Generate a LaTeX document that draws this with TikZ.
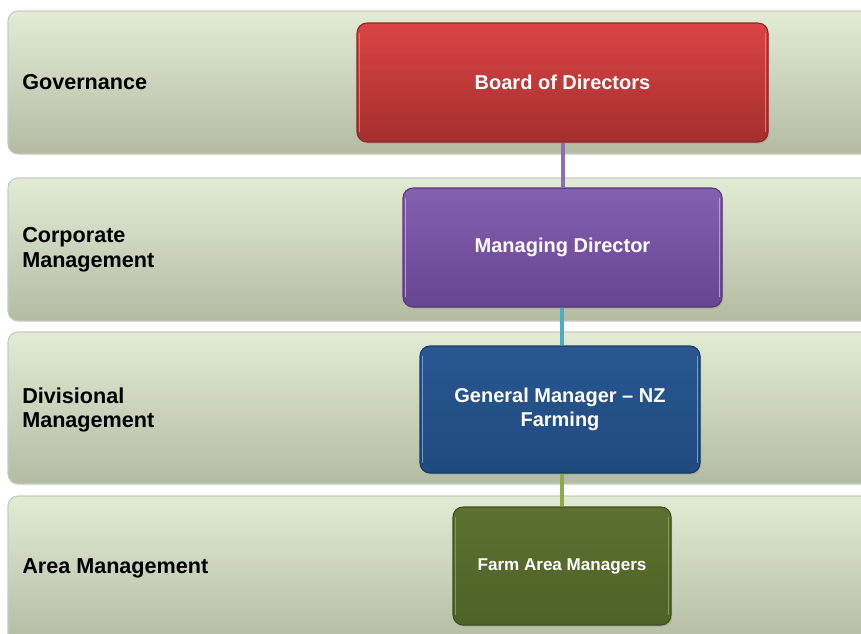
\documentclass[tikz,border=0pt]{standalone}
\usepackage{fontspec}
\setmainfont{Liberation Sans}
\usetikzlibrary{shadows}
\definecolor{bandtop}{HTML}{E2EBD4}
\definecolor{bandbot}{HTML}{B3BBA3}
\definecolor{bandline}{HTML}{C9CBC0}
\definecolor{redtop}{HTML}{DB4444}
\definecolor{redbot}{HTML}{A52E2E}
\definecolor{redline}{HTML}{8E2626}
\definecolor{purtop}{HTML}{8560B2}
\definecolor{purbot}{HTML}{674590}
\definecolor{purline}{HTML}{553878}
\definecolor{blutop}{HTML}{2A5791}
\definecolor{blubot}{HTML}{1F4A80}
\definecolor{bluline}{HTML}{173A66}
\definecolor{grntop}{HTML}{5C7130}
\definecolor{grnbot}{HTML}{4E6127}
\definecolor{grnline}{HTML}{3E4E1E}
\definecolor{conpur}{HTML}{8D6DB5}
\definecolor{concyan}{HTML}{4BACC6}
\definecolor{congrn}{HTML}{8DAA4A}
\definecolor{hlred}{HTML}{F08080}
\definecolor{hlpur}{HTML}{C9A8EE}
\definecolor{hlblu}{HTML}{7FB0E6}
\definecolor{hlgrn}{HTML}{8FA85A}
\tikzset{
  x=0.75pt, y=-0.75pt,
  band/.style={rectangle, rounded corners=7.5pt, draw=bandline, line width=0.8pt,
    top color=bandtop, bottom color=bandbot, inner sep=0pt},
  lvl/.style={anchor=west, inner sep=0pt, align=left, text=black,
    font=\fontsize{16.2}{18.6}\selectfont\bfseries},
  role/.style={rectangle, rounded corners=7.5pt, line width=0.8pt, inner sep=2pt,
    align=center, text=white, font=\fontsize{15}{18}\selectfont\bfseries,
    drop shadow={opacity=0.35, shadow xshift=0.8pt, shadow yshift=-1.2pt}},
  conn/.style={line width=2.4pt}
}
\begin{document}
\begin{tikzpicture}
\useasboundingbox (0,0) rectangle (861,633);
\clip (0,0) rectangle (861,633);
% bands
\node[band, minimum width=650.25pt, minimum height=107.25pt] (b1) at (441.5,82.5) {};
\node[band, minimum width=650.25pt, minimum height=107.25pt] (b2) at (441.5,249.5) {};
\node[band, minimum width=650.25pt, minimum height=114pt] (b3) at (441.5,408) {};
\node[band, minimum width=650.25pt, minimum height=111.75pt] (b4) at (441.5,570.5) {};
% level labels
\node[lvl] (l1) at (22,82.5) {Governance};
\node[lvl] (l2) at (22,250) {Corporate\\Management};
\node[lvl] (l3) at (22,410) {Divisional\\Management};
\node[lvl] (l4) at (22,568.5) {Area Management};
% role boxes
\node[role, draw=redline, top color=redtop, bottom color=redbot,
  minimum width=308.25pt, minimum height=89.25pt] (bod) at (562.5,82.5) {Board of Directors};
\node[role, draw=purline, top color=purtop, bottom color=purbot,
  minimum width=239.25pt, minimum height=89.25pt] (md) at (562.5,247.5) {Managing Director};
\node[role, draw=bluline, top color=blutop, bottom color=blubot,
  minimum width=210pt, minimum height=95.25pt] (gm) at (560,409.5) {General Manager -- NZ\\Farming};
\node[role, draw=grnline, top color=grntop, bottom color=grnbot,
  minimum width=163.5pt, minimum height=88.5pt,
  font=\fontsize{12.8}{15}\selectfont\bfseries] (fam) at (562,566) {Farm Area Managers};
% glossy edge highlights
\foreach \n/\c in {bod/hlred, md/hlpur, gm/hlblu, fam/hlgrn}{
  \draw[\c, line width=1pt, opacity=0.8] ([xshift=2.2pt,yshift=-8pt]\n.north west) -- ([xshift=2.2pt,yshift=8pt]\n.south west);
  \draw[\c, line width=1pt, opacity=0.8] ([xshift=-2.2pt,yshift=-8pt]\n.north east) -- ([xshift=-2.2pt,yshift=8pt]\n.south east);
}
% connectors
\draw[conn, conpur] (bod.south -| 563,0) -- (md.north -| 563,0);
\draw[conn, concyan] (md.south -| 562,0) -- (gm.north -| 562,0);
\draw[conn, congrn] (gm.south -| 562,0) -- (fam.north -| 562,0);
\end{tikzpicture}
\end{document}
